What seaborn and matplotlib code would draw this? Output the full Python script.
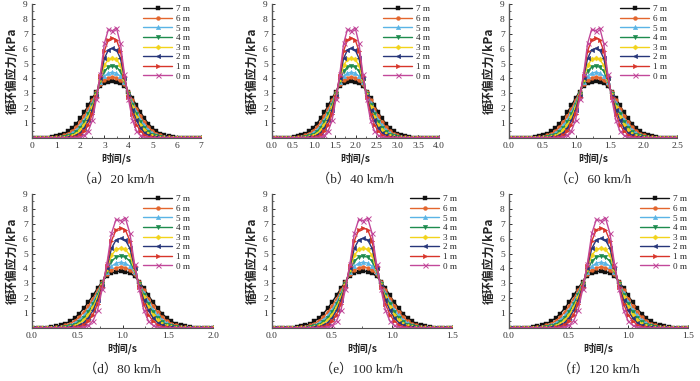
import numpy as np
import pandas as pd
import matplotlib
matplotlib.use("Agg")
import matplotlib.pyplot as plt
from matplotlib.ticker import MultipleLocator
import seaborn as sns

# ---------------- data ----------------
depth_labels = ["7 m", "6 m", "5 m", "4 m", "3 m", "2 m", "1 m", "0 m"]
# sample offsets around the load peak (k = -24 ... 24)
offsets = np.arange(-24, 25)

stress_7m = [0] * 6 + [0.01, 0.02, 0.03, 0.06, 0.11, 0.18, 0.29, 0.45, 0.67, 0.96, 1.32, 1.74, 2.20, 2.68, 3.12, 3.48, 3.68, 3.79,
                       3.82,
                       3.79, 3.68, 3.48, 3.12, 2.68, 2.20, 1.74, 1.32, 0.96, 0.67, 0.45, 0.29, 0.18, 0.11, 0.06, 0.03, 0.02, 0.01] + [0] * 6
stress_6m = [0] * 8 + [0.01, 0.02, 0.05, 0.10, 0.18, 0.30, 0.48, 0.73, 1.06, 1.48, 1.98, 2.52, 3.08, 3.60, 3.90, 4.05,
                       4.10,
                       4.05, 3.90, 3.60, 3.08, 2.52, 1.98, 1.48, 1.06, 0.73, 0.48, 0.30, 0.18, 0.10, 0.05, 0.02, 0.01] + [0] * 8
stress_5m = [0] * 9 + [0.01, 0.02, 0.05, 0.10, 0.19, 0.33, 0.54, 0.84, 1.24, 1.76, 2.36, 3.03, 3.74, 4.15, 4.36,
                       4.42,
                       4.36, 4.15, 3.74, 3.03, 2.36, 1.76, 1.24, 0.84, 0.54, 0.33, 0.19, 0.10, 0.05, 0.02, 0.01] + [0] * 9
stress_4m = [0] * 10 + [0.01, 0.03, 0.06, 0.12, 0.23, 0.41, 0.68, 1.06, 1.58, 2.22, 2.98, 3.84, 4.48, 4.76,
                        4.82,
                        4.76, 4.48, 3.84, 2.98, 2.22, 1.58, 1.06, 0.68, 0.41, 0.23, 0.12, 0.06, 0.03, 0.01] + [0] * 10
stress_3m = [0] * 11 + [0.01, 0.03, 0.07, 0.15, 0.29, 0.52, 0.88, 1.40, 2.08, 2.92, 3.94, 4.88, 5.28,
                        5.36,
                        5.28, 4.88, 3.94, 2.92, 2.08, 1.40, 0.88, 0.52, 0.29, 0.15, 0.07, 0.03, 0.01] + [0] * 11
stress_2m = [0] * 11 + [0.01, 0.02, 0.04, 0.08, 0.18, 0.36, 0.68, 1.18, 1.90, 2.85, 4.06, 5.35, 5.92,
                        6.02,
                        5.92, 5.35, 4.06, 2.85, 1.90, 1.18, 0.68, 0.36, 0.18, 0.08, 0.04, 0.02, 0.01] + [0] * 11
stress_1m = [0] * 12 + [0.01, 0.02, 0.04, 0.10, 0.23, 0.47, 0.90, 1.62, 2.75, 4.18, 5.85, 6.60,
                        6.72,
                        6.60, 5.85, 4.18, 2.75, 1.62, 0.90, 0.47, 0.23, 0.10, 0.04, 0.02, 0.01] + [0] * 12
stress_0m = [0] * 14 + [0.01, 0.03, 0.07, 0.18, 0.48, 1.20, 2.62, 4.30, 6.35, 7.30,
                        7.20,
                        7.40, 6.35, 4.30, 2.62, 1.20, 0.48, 0.18, 0.07, 0.03, 0.01] + [0] * 14
stress_series = [stress_7m, stress_6m, stress_5m, stress_4m, stress_3m, stress_2m, stress_1m, stress_0m]

panel_captions = ["（a）20 km/h", "（b）40 km/h", "（c）60 km/h",
                  "（d）80 km/h", "（e）100 km/h", "（f）120 km/h"]
panel_peak_time = [3.33, 1.90, 1.29, 0.98, 0.76, 0.77]
panel_sample_step = [0.166, 0.092, 0.060, 0.051, 0.037, 0.038]
panel_xmax = [7.0, 4.0, 2.5, 2.0, 1.5, 1.5]
panel_xstep = [1.0, 0.5, 0.5, 0.5, 0.5, 0.5]
panel_xfmt = ["{:.0f}", "{:.1f}", "{:.1f}", "{:.1f}", "{:.1f}", "{:.1f}"]

# ---------------- style / layout ----------------
colors = ["#111111", "#E3662E", "#5AB4E5", "#1E8C4E", "#F2D31B", "#27367A", "#D8352A", "#C2489A"]
markers = ["s", "o", "^", "v", "D", "<", ">", "x"]
msizes = [2.8, 2.8, 3.2, 3.2, 2.6, 3.2, 3.2, 3.6]

sns.set_style("ticks")
plt.rcParams["font.family"] = ["Liberation Serif", "Noto Sans CJK SC"]
plt.rcParams["axes.unicode_minus"] = False

fig = plt.figure(figsize=(7.0, 3.81), dpi=100)
W, H = 700.0, 381.0
# pixel boxes: (left, right, top, bottom)
boxes = [(32, 201, 4, 138), (272, 439, 4, 138), (509, 677, 4, 138),
         (32, 213, 194, 328), (272, 452, 194, 328), (509, 688, 194, 328)]
legend_left_px = [143, 383, 620, 143, 410, 640]
legend_top_px = [5, 5, 5, 195, 195, 195]

cjk = ["Noto Sans CJK SC", "DejaVu Sans"]

for p in range(6):
    l, r, t, b = boxes[p]
    ax = fig.add_axes([l / W, 1 - b / H, (r - l) / W, (b - t) / H])
    times = panel_peak_time[p] + offsets * panel_sample_step[p]
    for i, lab in enumerate(depth_labels):
        df = pd.DataFrame({"t": times, "s": stress_series[i]})
        sns.lineplot(data=df, x="t", y="s", ax=ax, color=colors[i], marker=markers[i],
                     markersize=msizes[i], markeredgewidth=0.7 if markers[i] == "x" else 0.3,
                     markeredgecolor=colors[i], linewidth=1.0, label=lab, sort=False,
                     estimator=None)
    ax.set_xlim(0, panel_xmax[p])
    ax.set_ylim(0, 9)
    xt = np.arange(0, panel_xmax[p] + 1e-9, panel_xstep[p])
    ax.set_xticks(xt)
    ax.set_xticklabels([panel_xfmt[p].format(v) for v in xt])
    ax.set_yticks(np.arange(1, 10))
    ax.set_yticklabels([str(v) for v in range(1, 10)])
    ax.yaxis.set_minor_locator(MultipleLocator(0.5))
    ax.xaxis.set_minor_locator(MultipleLocator(panel_xstep[p] / 2))
    ax.tick_params(axis="both", which="major", direction="in", length=2.5, width=0.7,
                   labelsize=6.8, pad=3, colors="#333333")
    ax.tick_params(axis="both", which="minor", direction="in", length=1.5, width=0.5)
    for side in ["top", "right"]:
        ax.spines[side].set_visible(False)
    ax.spines["left"].set_color("#555555")
    ax.spines["bottom"].set_color("#555555")
    ax.spines["left"].set_linewidth(1.0)
    ax.spines["bottom"].set_linewidth(0.8)
    ax.set_xlabel("时间/s", fontsize=7.5, family=cjk, labelpad=2, fontweight="bold")
    ax.set_ylabel("循环偏应力/kPa", fontsize=8.6, family=cjk, labelpad=3, fontweight="bold")
    lx = (legend_left_px[p] - l) / (r - l)
    ly = 1 - (legend_top_px[p] - t) / (b - t)
    ax.legend(loc="upper left", bbox_to_anchor=(lx, ly), frameon=False,
              fontsize=6.6, handlelength=3.2, handletextpad=0.35,
              labelspacing=0.13, borderaxespad=0.0, borderpad=0.0)
    ax.text(0.5, -0.262, panel_captions[p], transform=ax.transAxes, ha="center", va="top",
            fontsize=9.5, family=["Liberation Serif", "Noto Sans CJK SC"])

fig.savefig("out.png", dpi=100)
